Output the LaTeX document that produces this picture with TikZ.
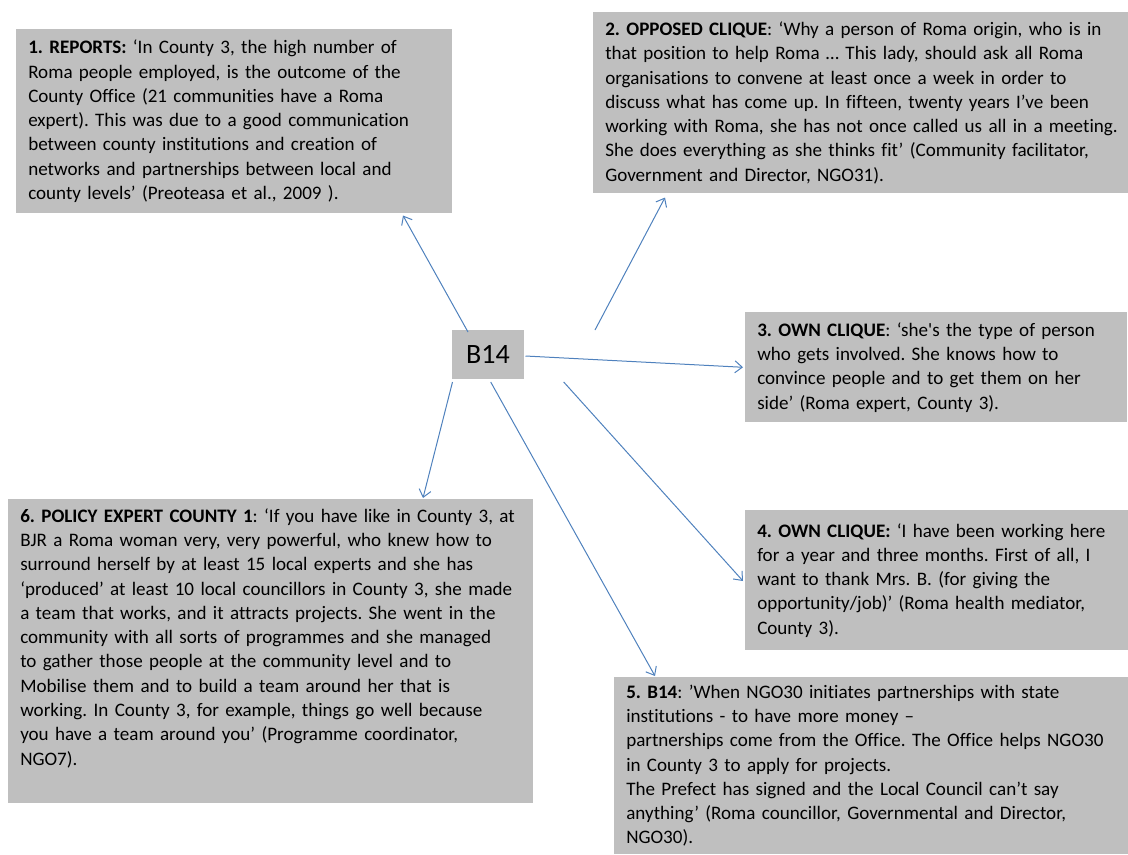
\documentclass[tikz,border=0pt]{standalone}
\usepackage{fontspec}
\setmainfont{Carlito}[Ligatures={TeX,NoCommon}]
\usetikzlibrary{arrows.meta,calc}
\definecolor{boxgray}{RGB}{191,191,191}
\definecolor{linkblue}{RGB}{79,129,189}
\newcommand{\quotesize}{\fontsize{14.3pt}{18.2pt}\selectfont\frenchspacing}
\hyphenpenalty=10000
\tikzset{
  quotebox/.style={fill=boxgray, anchor=north west, align=left, inner xsep=9pt, inner ysep=0pt, font=\quotesize},
  link/.style={draw=linkblue, line width=0.75pt, -{Straight Barb[length=5.5pt,width=9pt]}}
}
\begin{document}
\begin{tikzpicture}[x=0.75pt,y=0.75pt,yscale=-1,xscale=1]
%set diagram left start at 0, and has height of 854
\useasboundingbox (0,0) rectangle (1128,854);

%Shape: Rectangle [id:b14] 
\node [fill=boxgray, minimum width=53.6pt, minimum height=36.75pt, font=\fontsize{21pt}{25pt}\selectfont] (b14) at (488,354.5) {B14};

%Shape: Rectangle [id:reports] 
\node [quotebox, text width=309pt, minimum height=138pt] (reports) at (16,29) {\textbf{1. REPORTS:} ‘In County 3, the high number of\\
Roma people employed, is the outcome of the\\
County Office (21 communities have a Roma\\
expert). This was due to a good communication\\
between county institutions and creation of\\
networks and partnerships between local and\\
county levels’ (Preoteasa et al., 2009 ).};
%Shape: Rectangle [id:opposed] 
\node [quotebox, text width=400pt, minimum height=135.75pt] (opposed) at (593,12) {\textbf{2. OPPOSED CLIQUE}: ‘Why a person of Roma origin, who is in\\
that position to help Roma … This lady, should ask all Roma\\
organisations to convene at least once a week in order to\\
discuss what has come up. In fifteen, twenty years I’ve been\\
working with Roma, she has not once called us all in a meeting.\\
She does everything as she thinks fit’ (Community facilitator,\\
Government and Director, NGO31).};
%Shape: Rectangle [id:own3] 
\node [quotebox, text width=268.5pt, minimum height=82.5pt] (own3) at (745,312) {\textbf{3. OWN CLIQUE}: ‘she\textquotesingle s the type of person\\
who gets involved. She knows how to\\
convince people and to get them on her\\
side’ (Roma expert, County 3).};
%Shape: Rectangle [id:own4] 
\node [quotebox, text width=280pt, minimum height=105pt] (own4) at (745,510) {\textbf{4. OWN CLIQUE:} ‘I have been working here\\
for a year and three months. First of all, I\\
want to thank Mrs. B. (for giving the\\
opportunity/job)’ (Roma health mediator,\\
County 3).};
%Shape: Rectangle [id:own5] 
\node [quotebox, text width=380pt, minimum height=132.75pt] (own5) at (614,677) {\textbf{5. B14}: ’When NGO30 initiates partnerships with state\\
institutions - to have more money –\\
partnerships come from the Office. The Office helps NGO30\\
in County 3 to apply for projects.\\
The Prefect has signed and the Local Council can’t say\\
anything’ (Roma councillor, Governmental and Director,\\
NGO30).};
%Shape: Rectangle [id:policy] 
\node [quotebox, text width=375.75pt, inner ysep=7pt, text depth=203.6pt] (policy) at (8,499) {\textbf{6. POLICY EXPERT COUNTY 1}: ‘If you have like in County 3, at\\
BJR a Roma woman very, very powerful, who knew how to\\
surround herself by at least 15 local experts and she has\\
‘produced’ at least 10 local councillors in County 3, she made\\
a team that works, and it attracts projects. She went in the\\
community with all sorts of programmes and she managed\\
to gather those people at the community level and to\\
Mobilise them and to build a team around her that is\\
working. In County 3, for example, things go well because\\
you have a team around you’ (Programme coordinator,\\
NGO7).};

%Straight Lines [id:tails] 
\coordinate (t1) at (468,332);
\coordinate (t2) at (595,330);
\coordinate (t3) at (525.5,356);
\coordinate (t4) at (563.7,382);
\coordinate (t5) at (490.7,382);
\coordinate (t6) at (452.5,382);
\draw [link] (t1) -- ($(reports.south west)+(387,2)$);
\draw [link] (t2) -- ($(opposed.south west)+(72,4)$);
\draw [link] (t3) -- ($(own3.west)+(-2,0)$);
\draw [link] (t4) -- ($(own4.north west)+(-2,71)$);
\draw [link] (t5) -- ($(own5.north west)+(41,-1)$);
\draw [link] (t6) -- ($(policy.north west)+(415,-1)$);

\end{tikzpicture}
\end{document}
